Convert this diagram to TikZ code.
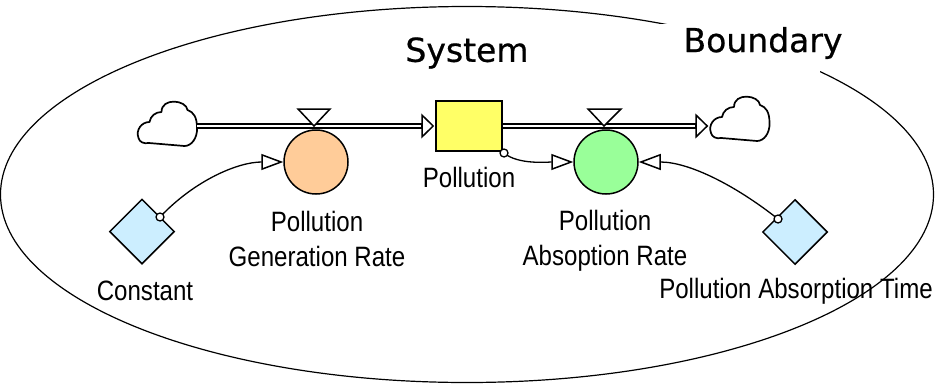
\documentclass[tikz,border=0pt]{standalone}
\usepackage{fontspec}
\setmainfont[FakeStretch=0.86]{Liberation Sans}
\newfontfamily\handfont[FakeBold=0.6]{DejaVu Sans}
\usetikzlibrary{arrows.meta,shapes.geometric}
\definecolor{stockfill}{HTML}{FFFF66}
\definecolor{genfill}{HTML}{FFCC99}
\definecolor{absfill}{HTML}{99FF99}
\definecolor{constfill}{HTML}{CCEEFF}
\tikzset{
  edge/.style={line width=1.5pt,draw=black},
  stock/.style={edge,fill=stockfill,minimum width=66pt,minimum height=50pt,inner sep=0pt},
  rate/.style={edge,circle,minimum size=64pt,inner sep=0pt},
  constbox/.style={edge,diamond,fill=constfill,minimum width=65pt,minimum height=65pt,inner sep=0pt},
  label/.style={font=\fontsize{28}{28}\selectfont,inner sep=0pt},
  hand/.style={font=\handfont\fontsize{33}{33}\selectfont,inner sep=2pt},
  hole/.style={edge,line width=1.3pt,circle,fill=white,minimum size=8pt,inner sep=0pt},
  flowline/.style={line width=1.5pt,double=white,double distance=2.4pt},
  headtip/.style={edge,-{Triangle[open,fill=white,length=13pt,width=25pt]}},
  linktip/.style={edge,line width=1.3pt,-{Triangle[open,fill=white,length=22pt,width=16pt,line width=1.5pt]}},
  cloudshape/.style={line width=1.7pt,fill=white,line join=round},
  cloudbox/.style={minimum width=59pt,minimum height=45pt,inner sep=0pt}
}
\begin{document}
\begin{tikzpicture}[x=1pt,y=-1pt]
\useasboundingbox (0,0) rectangle (936,383);
\node[edge,line width=1.2pt,ellipse,minimum width=933pt,minimum height=376pt,inner sep=0pt] (boundary) at (467,194.5) {};
\node[fill=white,minimum width=160pt,minimum height=54pt] (boundarytext) at (740,51) {};
\node[hand] (boundaryword) at (763,43) {Boundary};
\node[hand] (systemword) at (467,53) {System};

\node[cloudbox] (cloudL) at (167.5,124) {};
\node[cloudbox] (cloudR) at (740,119) {};
\node[stock] (pollution) at (469,126) {};
\node[rate,fill=genfill] (genrate) at (316,162) {};
\node[rate,fill=absfill] (absrate) at (606,162) {};
\node[constbox] (constant) at (142,231.5) {};
\node[constbox] (abstime) at (795,232) {};

\foreach \c in {cloudL,cloudR}{
  \draw[cloudshape] ([shift={(-18.5,19)}]\c.center) -- ([shift={(17,22)}]\c.center)
    .. controls ([shift={(24,22)}]\c.center) and ([shift={(30,14)}]\c.center) .. ([shift={(29.5,4)}]\c.center)
    .. controls ([shift={(29.5,-7)}]\c.center) and ([shift={(26,-12)}]\c.center) .. ([shift={(20,-14)}]\c.center)
    .. controls ([shift={(19,-24)}]\c.center) and ([shift={(-6,-27)}]\c.center) .. ([shift={(-6,-12)}]\c.center)
    .. controls ([shift={(-12,-12)}]\c.center) and ([shift={(-17,-8)}]\c.center) .. ([shift={(-18,-2)}]\c.center)
    .. controls ([shift={(-26,-2)}]\c.center) and ([shift={(-32,6)}]\c.center) .. ([shift={(-29,14)}]\c.center)
    .. controls ([shift={(-28,18)}]\c.center) and ([shift={(-24,20)}]\c.center) .. cycle;
}

\draw[flowline] (cloudL.east |- pollution.west) -- ([xshift=-13pt]pollution.west);
\draw[headtip] ([xshift=-14pt]pollution.west) -- ([xshift=-1pt]pollution.west);
\coordinate (outend) at ([xshift=-2pt]cloudR.west |- pollution.east);
\draw[flowline] (pollution.east) -- ([xshift=-12pt]outend);
\draw[headtip] ([xshift=-13pt]outend) -- (outend);

\draw[edge,fill=white,line join=miter] ([shift={(-18,-53)}]genrate.center) -- ([shift={(14,-53)}]genrate.center) -- ([shift={(-2,-36)}]genrate.center) -- cycle;
\draw[edge,fill=white,line join=miter] ([shift={(-18,-53)}]absrate.center) -- ([shift={(15,-53)}]absrate.center) -- ([shift={(-2,-36)}]absrate.center) -- cycle;

\draw[linktip] (160,217) coordinate (s1) .. controls +(35,-37) and +(-45,0) .. (genrate.west);
\draw[linktip] (504,153) coordinate (s2) .. controls +(14,12) and +(-25,0) .. (absrate.west);
\draw[linktip] (778,219) coordinate (s3) .. controls +(-43,-34) and +(50,0) .. (absrate.east);
\node[hole] (h1) at (s1) {};
\node[hole] (h2) at (s2) {};
\node[hole] (h3) at (s3) {};

\node[label] (pollutionlabel) at (469,177.5) {Pollution};
\node[label,align=center] (genlabel) at (317,239) {Pollution\\[7pt]Generation Rate};
\node[label,align=center] (abslabel) at (605,241) {Pollution\\[7pt]Absoption Rate};
\node[label] (constantlabel) at (145,291) {Constant};
\node[label] (timelabel) at (796,291.5) {Pollution Absorption Time};
\end{tikzpicture}
\end{document}
